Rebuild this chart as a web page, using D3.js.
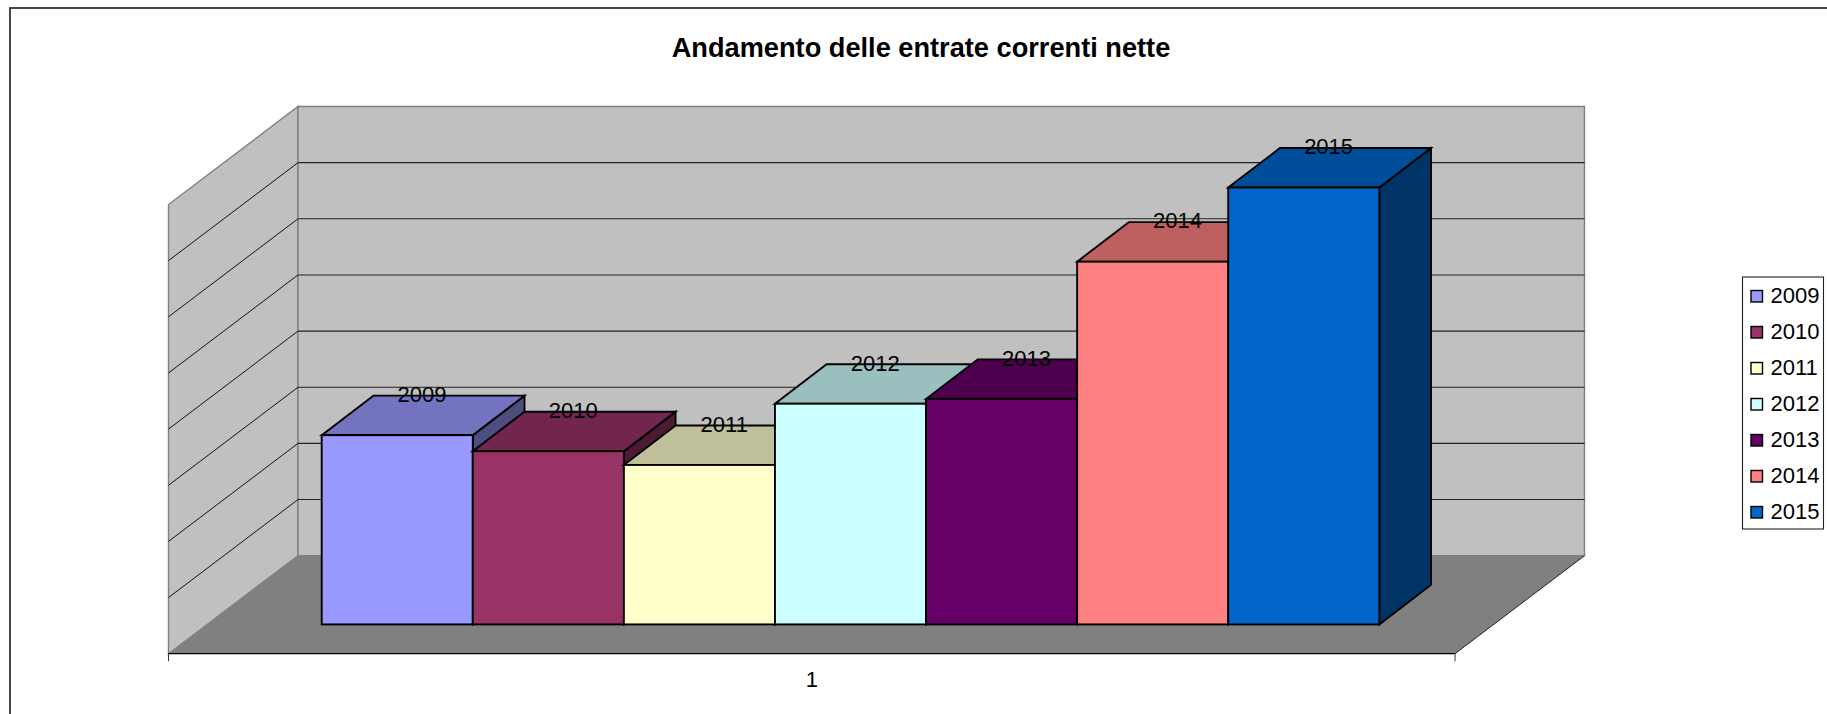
<!DOCTYPE html>
<html><head><meta charset="utf-8">
<script src="https://cdn.jsdelivr.net/npm/d3@7/dist/d3.min.js"></script>
<style>html,body{margin:0;padding:0;background:#fff}svg{display:block}text{font-family:"Liberation Sans",Arial,sans-serif;fill:#000}</style>
</head><body><svg id="c" width="1827" height="714"></svg>
<script>
const title = "Andamento delle entrate correnti nette";
const categories = ["1"];
const years = ["2009","2010","2011","2012","2013","2014","2015"];
const values = [3.37,3.085,2.84,3.93,4.016,6.46,7.78];
const colors = ["#9999FF","#993366","#FFFFCC","#CCFFFF","#660066","#FF8080","#0066CC"];
const gridTicks = d3.range(1,9);

const svg = d3.select("#c");
const frontL=168.5, frontR=1455, floorY=653.7, depthX=129.5, depthY=98;
const wallBottom=floorY-depthY, wallTop=106.5;
const y = d3.scaleLinear().domain([0,8]).range([wallBottom,wallTop]);
const x = d3.scaleBand().domain(years).range([321.7,1379.3]);
const barBase=624.4, barDX=51.7, barDY=39.5;
const yBar = v => barBase-(wallBottom-y(v));
const pts = a => a.map(p=>p.join(",")).join(" ");
const poly=(p,fill,stroke,sw)=>svg.append("polygon").attr("points",pts(p)).attr("fill",fill).attr("stroke",stroke||"none").attr("stroke-width",sw||0).attr("stroke-linejoin","miter");

// outer frame
svg.append("rect").attr("x",10).attr("y",8).attr("width",1825).attr("height",720).attr("fill","#fff").attr("stroke","#2a2a2a").attr("stroke-width",1.7);

// walls and floor
const backL=frontL+depthX, backR=frontR+depthX;
poly([[frontL,floorY],[backL,wallBottom],[backL,wallTop],[frontL,wallTop+depthY]],"#C0C0C0","#808080",1.4);
poly([[backL,wallBottom],[backR,wallBottom],[backR,wallTop],[backL,wallTop]],"#C0C0C0","#808080",1.4);
poly([[frontL,floorY],[frontR,floorY],[backR,wallBottom],[backL,wallBottom]],"#808080");

// gridlines
svg.selectAll(".gb").data(gridTicks.slice(0,-1)).join("line").attr("x1",backL).attr("x2",backR)
  .attr("y1",d=>y(d)).attr("y2",d=>y(d)).attr("stroke","#222").attr("stroke-width",1.1);
svg.selectAll(".gs").data(gridTicks.slice(0,-1)).join("line").attr("x1",frontL).attr("x2",backL)
  .attr("y1",d=>y(d)+depthY).attr("y2",d=>y(d)).attr("stroke","#111").attr("stroke-width",1);

// axis lines
svg.append("line").attr("x1",frontL).attr("x2",frontR).attr("y1",floorY).attr("y2",floorY).attr("stroke","#000").attr("stroke-width",1.3);
svg.append("line").attr("x1",frontR).attr("x2",backR).attr("y1",floorY).attr("y2",wallBottom).attr("stroke","#222").attr("stroke-width",1);
[frontL,frontR].forEach(t=>svg.append("line").attr("x1",t).attr("x2",t).attr("y1",floorY).attr("y2",floorY+7.5).attr("stroke","#333").attr("stroke-width",1));
svg.append("text").attr("x",(frontL+frontR)/2).attr("y",686.5).attr("text-anchor","middle").attr("font-size",22).text(categories[0]);

// bars
const shade=(c,k)=>{const r=d3.rgb(c);return d3.rgb(r.r*k,r.g*k,r.b*k).formatHex();};
years.forEach((yr,i)=>{
  const l=x(yr), r=l+x.bandwidth(), t=yBar(values[i]), b=barBase, c=colors[i];
  poly([[r,b],[r+barDX,b-barDY],[r+barDX,t-barDY],[r,t]],shade(c,.5),"#000",1.9);
  poly([[l,t],[l+barDX,t-barDY],[r+barDX,t-barDY],[r,t]],shade(c,.75),"#000",1.9);
  svg.append("rect").attr("x",l).attr("y",t).attr("width",r-l).attr("height",b-t).attr("fill",c).attr("stroke","#000").attr("stroke-width",1.9);
});
// data labels
svg.selectAll(".dl").data(years).join("text").attr("text-anchor","middle").attr("font-size",22)
  .attr("x",d=>x(d)+x.bandwidth()/2+barDX/2-1).attr("y",(d,i)=>yBar(values[i])-barDY+6.3).text(d=>d);

// title
svg.append("text").attr("x",921).attr("y",57).attr("text-anchor","middle").attr("font-size",27.2).attr("font-weight","bold").text(title);

// legend
svg.append("rect").attr("x",1742.5).attr("y",277).attr("width",81).attr("height",252).attr("fill","#fff").attr("stroke","#222").attr("stroke-width",1.1);
const ly=d3.scalePoint().domain(years).range([296,512]);
years.forEach((yr,i)=>{
  svg.append("rect").attr("x",1751).attr("y",ly(yr)-5.5).attr("width",11.5).attr("height",11.5).attr("fill",colors[i]).attr("stroke","#000").attr("stroke-width",1.4);
  svg.append("text").attr("x",1770.5).attr("y",ly(yr)+7).attr("font-size",22).text(yr);
});
</script></body></html>
